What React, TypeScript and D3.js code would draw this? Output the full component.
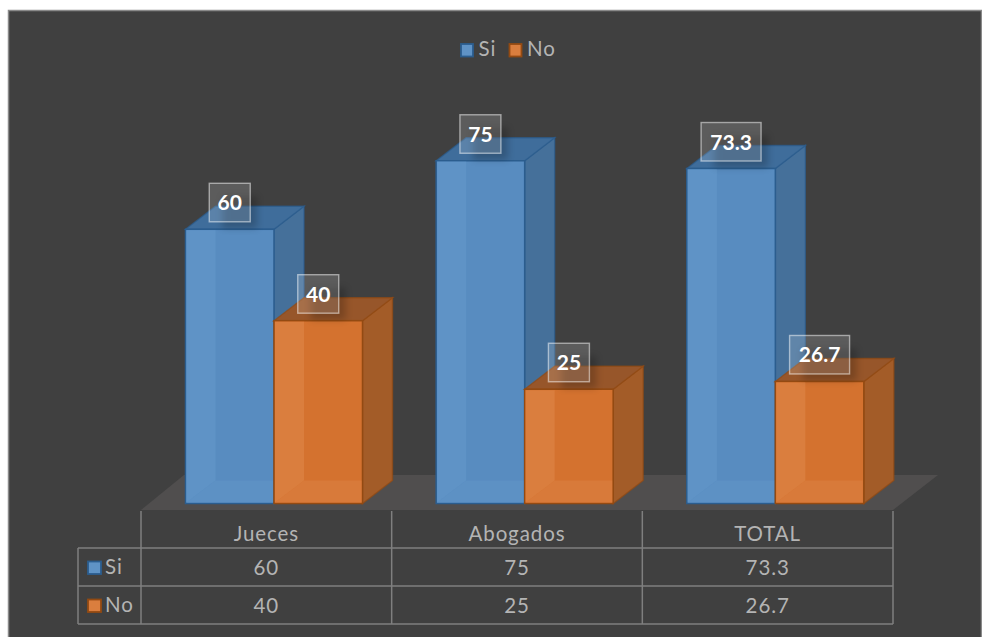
import React from "react";
import * as d3 from "d3";

const categories = ["Jueces", "Abogados", "TOTAL"];
const seriesNames = ["Si", "No"];
const siValues = [60, 75, 73.3];
const noValues = [40, 25, 26.7];
const seriesValues = [siValues, noValues];

const W = 982, H = 637;
const font = "Lato, Carlito, 'Open Sans', sans-serif";
const textColor = "#b4b4b4";
const gridColor = "#7f7f7f";

const palette = [
  { front: "#588cc0", light: "#5f93c6", top: "#3f6d9b", side: "#45709a", stroke: "#2b5d8e" },
  { front: "#d4722f", light: "#da7e3e", top: "#97562a", side: "#a35c28", stroke: "#934a12" },
];

const x0 = d3.scaleBand<string>().domain(categories).range([141, 893]);
const bandPad = 44.5;
const x1 = d3.scaleBand<string>().domain(seriesNames).range([0, 177]);
const y = d3.scaleLinear().domain([0, 100]).range([503.5, 46.5]);
const dx = 30, dy = 23;
const labelW = (v: number) => (String(v).length > 2 ? 60 : 41);

const rowY = [511, 548, 586, 624];
const tableLeft = 78;
const floor = d3.line<[number, number]>()([[141, 510], [184, 475], [938, 475], [893, 510]]);

function poly(pts: [number, number][]) {
  return d3.line<[number, number]>()(pts) + "Z";
}

function Bar({ cat, si, value }: { cat: string; si: number; value: number }) {
  const c = palette[si];
  const l = (x0(cat) as number) + bandPad + (x1(seriesNames[si]) as number);
  const w = x1.bandwidth();
  const r = l + w;
  const t = y(value), b = y(0);
  const bw = labelW(value);
  const cx = l + w / 2;
  const boxTop = t - 46;
  return (
    <g>
      <path d={poly([[r, t], [r + dx, t - dy], [r + dx, b - dy], [r, b]])} fill={c.side} stroke={c.stroke} strokeOpacity={0.7} strokeWidth={1.4} />
      <path d={poly([[l, t], [l + dx, t - dy], [r + dx, t - dy], [r, t]])} fill={c.top} stroke={c.stroke} strokeOpacity={0.7} strokeWidth={1.4} />
      <rect x={l} y={t} width={w} height={b - t} fill={c.front} stroke={c.stroke} strokeWidth={1.5} />
      <path d={poly([[l + 1, t + 1], [l + dx, t + 1], [l + dx, b - dy], [l + 1, b - 1]])} fill={c.light} />
      <path d={poly([[l + 1, b - 1], [l + dx, b - dy], [r - 1, b - dy], [r - 1, b - 1]])} fill={c.light} opacity={0.7} />
      <rect x={cx - bw / 2 + 13} y={boxTop + 13} width={bw - 6} height={32} fill="#000" opacity={0.2} filter="url(#soft)" />
      <rect x={cx - bw / 2} y={boxTop} width={bw} height={38.5} fill="#ffffff" fillOpacity={0.15} stroke="#ffffff" strokeOpacity={0.5} strokeWidth={1.4} />
      <text x={cx} y={t - 19} textAnchor="middle" fontFamily={font} fontWeight={700} fontSize={21} fill="#fff">{value}</text>
    </g>
  );
}

export default function App() {
  const letter = 0.9;
  return (
    <svg width={W} height={H} style={{ position: "absolute", left: 0, top: 0 }}>
      <defs>
        <filter id="soft" x="-50%" y="-100%" width="200%" height="300%">
          <feGaussianBlur stdDeviation="3.5" />
        </filter>
      </defs>
      <rect x={8} y={10} width={974} height={627} fill="#404040" />
      <path d="M8.5 637V10.5H981.5V637" fill="none" stroke="#8a8a8a" strokeWidth={1.5} />
      <path d={floor + "Z"} fill="#504e4e" />
      {categories.map((cat, i) => seriesNames.map((_, si) => (
        <Bar key={cat + si} cat={cat} si={si} value={seriesValues[si][i]} />
      )))}

      {/* legend */}
      {seriesNames.map((name, i) => {
        const lx = [461, 509.5][i];
        const c = palette[i];
        return (
          <g key={name}>
            <rect x={lx} y={44} width={12} height={12.5} fill={c.light} stroke={c.stroke} strokeWidth={1.8} />
            <text x={lx + 17.5} y={56} fontFamily={font} fontSize={20.5} letterSpacing={letter} fill={textColor}>{name}</text>
          </g>
        );
      })}

      {/* data table */}
      <g stroke={gridColor} strokeWidth={1.5} fill="none">
        {[141, ...categories.map((c) => (x0(c) as number) + x0.bandwidth())].map((vx) => (
          <line key={vx} x1={vx} x2={vx} y1={rowY[0]} y2={rowY[3]} />
        ))}
        <line x1={tableLeft} x2={tableLeft} y1={rowY[1]} y2={rowY[3]} />
        {rowY.slice(1).map((ry) => <line key={ry} x1={tableLeft} x2={893} y1={ry} y2={ry} />)}
      </g>
      {categories.map((cat) => (
        <text key={cat} x={(x0(cat) as number) + x0.bandwidth() / 2} y={541} textAnchor="middle" fontFamily={font} fontSize={20.5} letterSpacing={letter} fill={textColor}>{cat}</text>
      ))}
      {seriesNames.map((name, si) => {
        const c = palette[si];
        const base = rowY[si + 1];
        return (
          <g key={name}>
            <rect x={88} y={base + 13.5} width={13} height={12.5} fill={c.light} stroke={c.stroke} strokeWidth={1.8} />
            <text x={105} y={base + 25.5} fontFamily={font} fontSize={20.5} letterSpacing={letter} fill={textColor}>{name}</text>
            {categories.map((cat, i) => (
              <text key={cat} x={(x0(cat) as number) + x0.bandwidth() / 2} y={base + 27} textAnchor="middle" fontFamily={font} fontSize={20.5} letterSpacing={letter} fill={textColor}>{seriesValues[si][i]}</text>
            ))}
          </g>
        );
      })}
    </svg>
  );
}
